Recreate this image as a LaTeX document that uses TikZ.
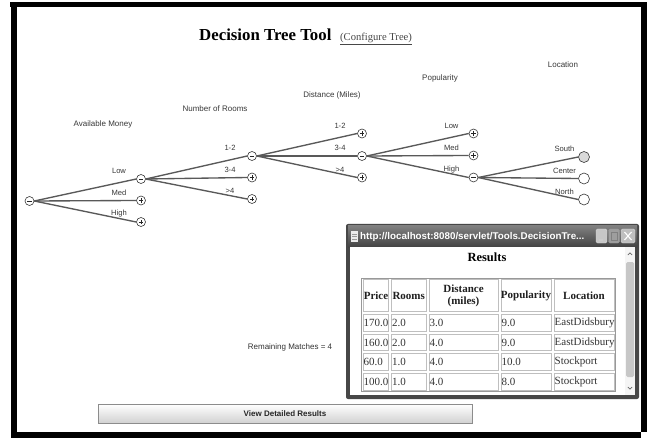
\documentclass[tikz,border=0pt]{standalone}
\usepackage{fontspec}
\setmainfont{Liberation Serif}
\newfontfamily\uisans{Liberation Sans}
\usetikzlibrary{calc}
\begin{document}
\begin{tikzpicture}[x=1pt,y=-1pt,
  branch/.style={draw=black!65, line width=1.35pt},
  treenode/.style={circle, draw=black!78, fill=white, line width=0.6pt, minimum size=9pt, inner sep=0pt},
  minusnode/.style={treenode, path picture={
      \draw[black!85, line width=0.6pt] ([xshift=-2.2pt]path picture bounding box.center) -- ([xshift=2.2pt]path picture bounding box.center);}},
  plusnode/.style={treenode, path picture={
      \draw[black!85, line width=0.6pt] ([xshift=-2.2pt]path picture bounding box.center) -- ([xshift=2.2pt]path picture bounding box.center)
        ([yshift=-2.2pt]path picture bounding box.center) -- ([yshift=2.2pt]path picture bounding box.center);}},
  leafnode/.style={circle, draw=black!78, fill=white, line width=0.6pt, minimum size=11pt, inner sep=0pt},
  heading/.style={font=\uisans\fontsize{8}{9}\selectfont, text=black!78, inner sep=0pt},
  edgelab/.style={font=\uisans\fontsize{7.6}{9}\selectfont, text=black!78, inner sep=0pt},
  th/.style={font=\bfseries\fontsize{11}{11.5}\selectfont, text=black!88, align=center, inner sep=0pt},
  td/.style={font=\fontsize{11}{12}\selectfont, text=black!80, anchor=west, inner sep=0pt},
  cell/.style={draw=black!25, line width=0.8pt},
]
\useasboundingbox (0,0) rectangle (647,438);
\fill[white] (0,0) rectangle (647,438);

% page frame
\fill[black] (10,2) rectangle (647,7);
\fill[black] (11,2) rectangle (17,438);
\fill[black] (641,2) rectangle (647,432);
\fill[black] (11,432) rectangle (641,438);

% page title
\node[anchor=base west, inner sep=0pt, font=\bfseries\fontsize{16.8}{18}\selectfont] (title) at (199,41) {Decision Tree Tool};
\node[anchor=base west, inner sep=0pt, font=\fontsize{10.6}{12}\selectfont, text=black!72] (config) at (340,41) {\underline{(Configure Tree)}};

% attribute headings
\node[heading] (hmoney) at (103,124) {Available Money};
\node[heading] (hrooms) at (215,109) {Number of Rooms};
\node[heading] (hdist)  at (332,95)  {Distance (Miles)};
\node[heading] (hpop)   at (440,78)  {Popularity};
\node[heading] (hloc)   at (563,65)  {Location};

% tree nodes
\node[minusnode] (root) at (29.5,201) {};
\node[minusnode] (a1) at (141,179) {};
\node[plusnode]  (a2) at (141,200.5) {};
\node[plusnode]  (a3) at (141,222) {};
\node[minusnode] (b1) at (252,156) {};
\node[plusnode]  (b2) at (252,177.5) {};
\node[plusnode]  (b3) at (252,199) {};
\node[plusnode]  (c1) at (362,133.5) {};
\node[minusnode] (c2) at (362,156) {};
\node[plusnode]  (c3) at (362,177.5) {};
\node[plusnode]  (d1) at (473.5,133.5) {};
\node[plusnode]  (d2) at (473.5,155.5) {};
\node[minusnode] (d3) at (473.5,177.5) {};
\node[leafnode, fill=black!15] (e1) at (584,157) {};
\node[leafnode] (e2) at (584,178.5) {};
\node[leafnode] (e3) at (584,199.5) {};

% branches
\foreach \p/\c in {root/a1,root/a2,root/a3,a1/b1,a1/b2,a1/b3,b1/c1,b1/c2,b1/c3,c2/d1,c2/d2,c2/d3,d3/e1,d3/e2,d3/e3}
  \draw[branch] (\p.east) -- (\c.west);

% branch labels
\foreach \c/\t in {a1/Low,a2/Med,a3/High,b1/1-2,b2/3-4,b3/>4,c1/1-2,c2/3-4,c3/>4,d1/Low,d2/Med,d3/High}
  \node[edgelab] (lab-\c) at ($(\c)+(-22,-8)$) {\t};
\foreach \c/\t in {e1/South,e2/Center,e3/North}
  \node[edgelab] (lab-\c) at ($(\c)+(-19.5,-8)$) {\t};

% match counter and button
\node[font=\uisans\fontsize{8}{9}\selectfont, text=black!80, inner sep=0pt] (remain) at (290,347) {Remaining Matches = 4};
\node[draw=black!45, top color=white, bottom color=black!18, minimum width=374pt, minimum height=19pt, inner sep=0pt,
      font=\uisans\bfseries\fontsize{8}{9}\selectfont, text=black!85] (viewbtn) at (285,413.7) {View Detailed Results};

% results window
\fill[black!72, rounded corners=2pt] (346,224) rectangle (639,399);
\shade[top color=black!50, bottom color=black!74] (348,226) rectangle (637,247);
\fill[white] (350,247) rectangle (635,395);
\fill[black!8] (351,231) rectangle (358,242);
\draw[black!40, line width=0.5pt] (352,234) -- (357,234) (352,236.5) -- (357,236.5) (352,239) -- (357,239);
\node[anchor=west, inner sep=0pt, text=white, font=\uisans\bfseries\fontsize{9.8}{10}\selectfont] (wintitle) at (360,236.5) {http://localhost:8080/servlet/Tools.DecisionTre...};
\draw[white!85!black, fill=black!22, rounded corners=1.5pt] (596,229) rectangle (607,243);
\draw[black!20, line width=1.2pt] (599,240) -- (603,240);
\draw[black!40, fill=black!38, rounded corners=1.5pt] (608.5,229) rectangle (619.5,243);
\draw[black!50, line width=0.6pt] (611,232) rectangle (617,240);
\draw[white!85!black, fill=black!25, rounded corners=1.5pt] (621,229) rectangle (635,243);
\draw[white, line width=1.1pt] (624.5,232) -- (631.5,240) (624.5,240) -- (631.5,232);

% window scrollbar
\fill[black!4] (625,247) rectangle (635,395);
\fill[black!22, rounded corners=1.5pt] (626,262) rectangle (634,377);
\draw[black!60, line width=0.7pt] (627.8,255) -- (630,252.8) -- (632.2,255);
\draw[black!60, line width=0.7pt] (627.8,387) -- (630,389.2) -- (632.2,387);

\node[font=\bfseries\fontsize{12.5}{13}\selectfont, inner sep=0pt] (results) at (487,257) {Results};

% results table
\draw[black!40, line width=0.8pt] (361.5,278) rectangle (615.5,391.5);
\foreach \xa/\xb in {361.5/390, 390/427.5, 427.5/499.5, 499.5/552.5, 552.5/615.5}
  \foreach \ya/\yb in {278/313, 313/332.5, 332.5/352, 352/371.5, 371.5/391.5}
    \draw[cell] (\xa+1.6,\ya+1.6) rectangle (\xb-1.6,\yb-1.6);

\node[th] (h-price) at (376,296) {Price};
\node[th] (h-rooms) at (408.7,296) {Rooms};
\node[th] (h-dist)  at (463.5,296) {Distance\\(miles)};
\node[th] (h-pop)   at (526,296) {Popularity};
\node[th] (h-loc)   at (584,296) {Location};

\foreach \r/\y/\pa/\pb/\pc/\pd/\pe in {
    1/323/170.0/2.0/3.0/9.0/EastDidsbury,
    2/342.5/160.0/2.0/4.0/9.0/EastDidsbury,
    3/362/60.0/1.0/4.0/10.0/Stockport,
    4/381.5/100.0/1.0/4.0/8.0/Stockport}{
  \node[td] (r\r-price) at (363.5,\y) {\pa};
  \node[td] (r\r-rooms) at (392,\y) {\pb};
  \node[td] (r\r-dist)  at (429.5,\y) {\pc};
  \node[td] (r\r-pop)   at (501.5,\y) {\pd};
  \node[td] (r\r-loc)   at (554.5,\y) {\pe};
}
\end{tikzpicture}
\end{document}
